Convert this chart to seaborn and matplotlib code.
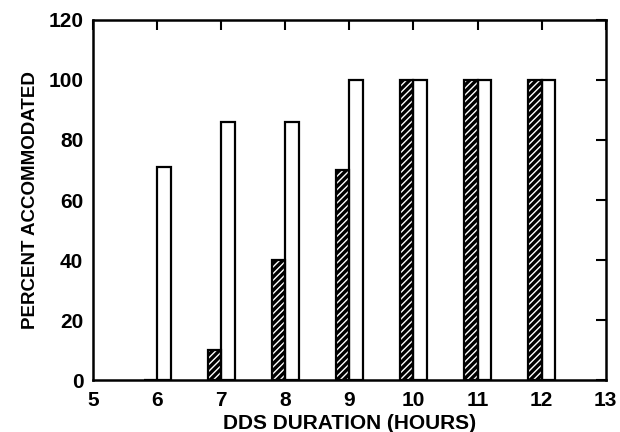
import matplotlib
matplotlib.use("Agg")
import matplotlib.pyplot as plt
import seaborn as sns
import pandas as pd
from matplotlib.patches import Rectangle

durations = [6, 7, 8, 9, 10, 11, 12]
hatched_pct = [0, 10, 40, 70, 100, 100, 100]
open_pct = [71, 86, 86, 100, 100, 100, 100]
x_ticks = [5, 6, 7, 8, 9, 10, 11, 12, 13]
y_ticks = [0, 20, 40, 60, 80, 100, 120]

df = pd.DataFrame({
    "duration": durations * 2,
    "pct": hatched_pct + open_pct,
    "group": ["hatched"] * len(durations) + ["open"] * len(durations),
})

sns.set_style("white")
plt.rcParams["font.family"] = ["Liberation Sans", "DejaVu Sans"]
plt.rcParams["font.weight"] = "bold"
plt.rcParams["hatch.linewidth"] = 1.0
plt.rcParams["axes.labelcolor"] = "black"
plt.rcParams["text.color"] = "black"

fig = plt.figure(figsize=(6.2, 4.32), dpi=100)
ax = fig.add_axes([0.15, 0.12, 0.827, 0.834])

sns.barplot(data=df, x="duration", y="pct", hue="group", native_scale=True,
            width=0.42, dodge=True, palette=["black", "white"],
            edgecolor="black", linewidth=1.6, legend=False, ax=ax,
            hue_order=["hatched", "open"], errorbar=None)

for p in list(ax.patches):
    fc = p.get_facecolor()
    if fc[0] < 0.5 and p.get_height() > 0:
        p.set_edgecolor("white")
        p.set_hatch("/////")
        p.set_linewidth(0)
        ax.add_patch(Rectangle((p.get_x(), p.get_y()), p.get_width(), p.get_height(),
                               fill=False, edgecolor="black", linewidth=1.6, zorder=p.get_zorder() + 0.1))

ax.set_xlim(5, 13)
ax.set_ylim(0, 120)
ax.set_xticks(x_ticks)
ax.set_yticks(y_ticks)
ax.tick_params(direction="in", length=7, width=1.5, top=True, right=True,
               labelsize=15, colors="black")
ax.tick_params(axis="x", pad=8)
ax.tick_params(axis="y", pad=7)
for s in ax.spines.values():
    s.set_linewidth(1.8)
    s.set_color("black")
ax.set_xlabel("DDS DURATION (HOURS)", fontsize=15, labelpad=3, fontweight="bold")
ax.set_ylabel("PERCENT ACCOMMODATED", fontsize=13.5, labelpad=7, fontweight="bold")

fig.savefig("out.png", dpi=100, facecolor="white")
